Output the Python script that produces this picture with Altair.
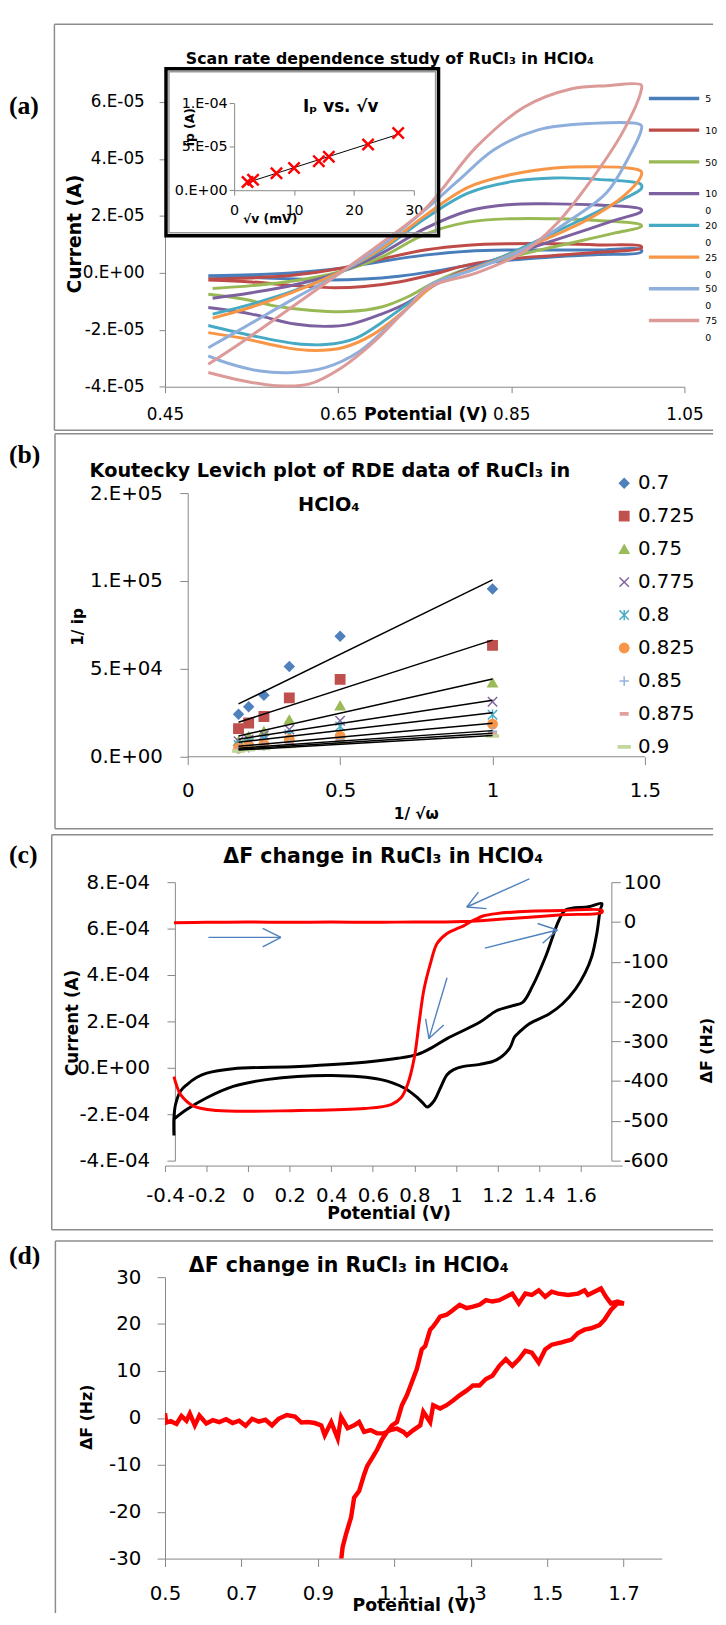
import altair as alt
import pandas as pd

FONT = "DejaVu Sans"
SERIF = "Liberation Serif"
AXC = "#868686"
BOXC = "#8c8c8c"

# ---------------- (a) CVs at several scan rates (mV/s); current in 1e-5 A ----------------
RATES = ["5", "10", "50", "100", "200", "250", "500", "750"]
RATE_COLORS = ["#4A7EBB", "#BE4B48", "#98B954", "#7D60A0", "#46AAC5", "#F79646", "#8EAEDC", "#DC9A98"]

E_5 = [0.50, 0.55, 0.60, 0.65, 0.70, 0.75, 0.80, 0.85, 0.90, 0.95, 1.00,
       1.00, 0.95, 0.90, 0.85, 0.80, 0.76, 0.72, 0.68, 0.64, 0.60, 0.55, 0.50]
I_5 = [-0.10, -0.07, 0.00, 0.15, 0.40, 0.62, 0.76, 0.80, 0.80, 0.80, 0.82,
       0.72, 0.64, 0.56, 0.45, 0.26, 0.05, -0.12, -0.22, -0.25, -0.22, -0.16, -0.12]
E_10 = [0.50, 0.55, 0.60, 0.65, 0.70, 0.75, 0.80, 0.85, 0.90, 0.95, 1.00,
        1.00, 0.95, 0.90, 0.85, 0.80, 0.76, 0.72, 0.68, 0.64, 0.60, 0.55, 0.50]
I_10 = [-0.22, -0.18, -0.08, 0.14, 0.48, 0.80, 0.97, 1.02, 1.02, 0.98, 0.93,
        0.86, 0.72, 0.61, 0.50, 0.28, -0.05, -0.32, -0.48, -0.52, -0.45, -0.32, -0.25]
E_50 = [0.505, 0.55, 0.60, 0.65, 0.70, 0.75, 0.80, 0.85, 0.90, 0.95, 1.00,
        1.00, 0.97, 0.94, 0.88, 0.83, 0.79, 0.76, 0.73, 0.70, 0.66, 0.62, 0.58, 0.54, 0.50]
I_50 = [-0.55, -0.45, -0.28, 0.02, 0.55, 1.35, 1.78, 1.90, 1.90, 1.84, 1.68,
        1.62, 1.40, 1.19, 0.78, 0.40, 0.05, -0.35, -0.85, -1.20, -1.36, -1.32, -1.18, -0.92, -0.75]
E_100 = [0.505, 0.55, 0.60, 0.65, 0.70, 0.75, 0.80, 0.85, 0.90, 0.95, 1.00,
         1.00, 0.97, 0.94, 0.88, 0.83, 0.79, 0.76, 0.73, 0.70, 0.665, 0.635, 0.60, 0.55, 0.50]
I_100 = [-0.89, -0.70, -0.42, 0.00, 0.68, 1.55, 2.17, 2.40, 2.42, 2.38, 2.23,
         2.15, 1.85, 1.54, 0.95, 0.45, 0.02, -0.45, -1.05, -1.45, -1.80, -1.88, -1.80, -1.45, -1.22]
E_200 = [0.505, 0.55, 0.60, 0.65, 0.70, 0.75, 0.80, 0.85, 0.90, 0.95, 1.00,
         1.00, 0.98, 0.95, 0.90, 0.85, 0.80, 0.76, 0.73, 0.70, 0.67, 0.635, 0.60, 0.55, 0.50]
I_200 = [-1.45, -1.10, -0.62, 0.00, 0.80, 1.90, 2.80, 3.20, 3.33, 3.28, 3.10,
         2.95, 2.60, 2.15, 1.42, 0.70, 0.08, -0.45, -1.10, -1.75, -2.30, -2.52, -2.48, -2.20, -1.85]
E_250 = [0.505, 0.55, 0.60, 0.65, 0.70, 0.75, 0.80, 0.85, 0.90, 0.95, 0.985, 1.00,
         1.00, 0.98, 0.94, 0.88, 0.83, 0.79, 0.76, 0.73, 0.69, 0.655, 0.615, 0.58, 0.54, 0.50]
I_250 = [-1.59, -1.20, -0.65, 0.00, 0.85, 2.00, 3.00, 3.45, 3.68, 3.72, 3.68, 3.56,
         3.40, 2.70, 1.90, 1.05, 0.40, -0.02, -0.45, -1.24, -2.17, -2.63, -2.72, -2.57, -2.30, -2.10]
E_500 = [0.50, 0.54, 0.60, 0.65, 0.70, 0.75, 0.79, 0.83, 0.88, 0.94, 1.00,
         1.00, 0.986, 0.96, 0.92, 0.865, 0.81, 0.755, 0.73, 0.71, 0.675, 0.635, 0.597, 0.56, 0.52, 0.50]
I_500 = [-2.63, -1.94, -0.89, -0.05, 0.95, 2.20, 3.27, 4.32, 5.01, 5.24, 5.18,
         5.00, 4.08, 2.81, 1.89, 0.84, 0.15, -0.45, -1.25, -1.82, -2.75, -3.33, -3.50, -3.45, -3.15, -2.92]
E_750 = [0.50, 0.54, 0.60, 0.65, 0.70, 0.75, 0.81, 0.865, 0.92, 0.96, 1.00,
         1.00, 0.98, 0.94, 0.90, 0.865, 0.81, 0.755, 0.73, 0.692, 0.654, 0.616, 0.578, 0.54, 0.50]
I_750 = [-3.21, -2.41, -1.13, -0.05, 1.05, 2.23, 4.43, 5.82, 6.46, 6.57, 6.60,
         6.40, 5.01, 3.16, 1.65, 0.75, 0.00, -0.50, -1.24, -2.41, -3.33, -3.91, -3.96, -3.79, -3.50]
CV = {"5": (E_5, I_5), "10": (E_10, I_10), "50": (E_50, I_50), "100": (E_100, I_100),
      "200": (E_200, I_200), "250": (E_250, I_250), "500": (E_500, I_500), "750": (E_750, I_750)}

# inset: peak current vs sqrt(scan rate)
SQRT_V = [2.24, 3.16, 7.07, 10.0, 14.14, 15.81, 22.36, 27.39]
IP = [0.95e-5, 1.2e-5, 1.95e-5, 2.55e-5, 3.35e-5, 3.85e-5, 5.25e-5, 6.6e-5]

# ---------------- (b) Koutecky-Levich ----------------
X_B = [0.1667, 0.2, 0.25, 0.3333, 0.5, 1.0]
POTS = ["0.7", "0.725", "0.75", "0.775", "0.8", "0.825", "0.85", "0.875", "0.9"]
POT_COLORS = ["#4F81BD", "#C0504D", "#9BBB59", "#8064A2", "#4BACC6", "#F79646", "#95B3D7", "#E0A0A0", "#C3D69B"]
Y_B = {  # 1/ip in 1e4
    "0.7":   [2.42, 2.85, 3.50, 5.14, 6.85, 9.55],
    "0.725": [1.60, 1.92, 2.29, 3.35, 4.40, 6.34],
    "0.75":  [0.89, 1.17, 1.45, 2.11, 2.91, 4.21],
    "0.775": [0.89, 0.99, 1.23, 1.55, 2.05, 3.13],
    "0.8":   [0.67, 0.80, 0.99, 1.27, 1.73, 2.39],
    "0.825": [0.49, 0.62, 0.71, 0.99, 1.17, 1.86],
    "0.85":  [0.42, 0.50, 0.60, 0.75, 0.95, 1.45],
    "0.875": [0.38, 0.45, 0.52, 0.65, 0.85, 1.30],
    "0.9":   [0.33, 0.40, 0.47, 0.58, 0.78, 1.18],
}
XPATH = "M-1,-1L1,1M-1,1L1,-1"
ASTER = "M-1,-1L1,1M-1,1L1,-1M0,-1.1V1.1"
PLUS = "M-1,0H1M0,-1V1"
SHORT = "M-0.8,-0.25H0.8V0.25H-0.8Z"
LONG = "M-1.25,-0.22H1.25V0.22H-1.25Z"
POT_SHAPES = ["diamond", "square", "triangle-up", XPATH, ASTER, "circle", PLUS, SHORT, LONG]

# ---------------- (c) current (1e-4 A) and dF (Hz) vs potential ----------------
C_BLK_V = [-0.357, -0.357, -0.349, -0.325, -0.294, -0.246, -0.199, -0.072, 0.245, 0.561, 0.720, 0.815,
           0.878, 0.957, 1.116, 1.195, 1.274, 1.321, 1.369, 1.432, 1.496, 1.527, 1.638, 1.702,
           1.694, 1.678, 1.654, 1.622, 1.575, 1.512, 1.448, 1.353, 1.306, 1.282, 1.258, 1.195, 1.116,
           1.037, 0.989, 0.957, 0.925, 0.894, 0.862, 0.839, 0.815, 0.751, 0.640, 0.403, 0.087, -0.072,
           -0.199, -0.294, -0.357]
C_BLK_I = [-2.92, -2.14, -1.57, -1.00, -0.72, -0.41, -0.23, -0.04, 0.06, 0.24, 0.41, 0.58,
           0.84, 1.26, 1.97, 2.46, 2.68, 2.82, 3.53, 4.81, 6.37, 6.80, 6.94, 7.08,
           6.80, 5.80, 4.81, 4.10, 3.39, 2.75, 2.32, 1.90, 1.55, 1.33, 0.84, 0.34, 0.15,
           0.06, -0.08, -0.30, -0.87, -1.43, -1.69, -1.50, -1.29, -0.87, -0.51, -0.33, -0.51, -0.80,
           -1.29, -1.79, -2.21]
C_RED_V = [-0.357, -0.2, 0.0, 0.2, 0.4, 0.6, 0.8, 0.95, 1.036, 1.116, 1.195, 1.353, 1.512, 1.702,
           1.702, 1.512, 1.353, 1.195, 1.13, 1.10, 1.068, 1.037, 1.0, 0.957, 0.909, 0.878, 0.846,
           0.823, 0.799, 0.767, 0.736, 0.688, 0.561, 0.245, -0.151, -0.262, -0.325, -0.345, -0.357]
C_RED_F = [-2, -1, 0, -1, 0, -1, 0, 0, 1, 3, 6, 12, 18, 24,
           29, 29, 27, 21, 15, 8, 0, -10, -18, -29, -54, -103, -170,
           -252, -343, -409, -442, -459, -469, -474, -474, -463, -434, -410, -389]
AR_X1 = [-0.191, 0.070, 0.070, 1.353, 1.108, 1.147, 1.139, 1.393, 1.417, 0.957, 0.854, 0.941]
AR_Y1 = [5.62, 6.01, 5.21, 8.14, 7.57, 6.86, 5.16, 6.22, 5.37, 3.88, 2.11, 1.85]
AR_X2 = [0.158, 0.158, 0.158, 1.052, 1.052, 1.052, 1.488, 1.488, 1.488, 0.870, 0.870, 0.870]
AR_Y2 = [5.62, 5.62, 5.62, 6.93, 6.93, 6.93, 5.94, 5.94, 5.94, 1.26, 1.26, 1.26]

# ---------------- (d) dF (Hz) vs potential ----------------
D_V = [0.500, 0.503, 0.515, 0.530, 0.543, 0.556, 0.565, 0.578, 0.590, 0.608, 0.625, 0.642, 0.660, 0.677,
       0.694, 0.711, 0.728, 0.745, 0.763, 0.780, 0.797, 0.819, 0.840, 0.857, 0.874, 0.892, 0.909, 0.918,
       0.935, 0.952, 0.961, 0.978, 0.995, 1.008, 1.021, 1.038, 1.055, 1.073, 1.090, 1.107, 1.124, 1.133,
       1.150, 1.168, 1.176, 1.194, 1.202, 1.220, 1.237, 1.254, 1.271, 1.289, 1.306, 1.323, 1.340, 1.357,
       1.375, 1.392, 1.409, 1.426, 1.443, 1.460, 1.478, 1.495, 1.512, 1.538, 1.564, 1.581, 1.598, 1.615,
       1.637, 1.650, 1.667, 1.684, 1.701,
       1.684, 1.667, 1.654, 1.641, 1.624, 1.607, 1.598, 1.581, 1.555, 1.529, 1.512, 1.495, 1.478, 1.460,
       1.443, 1.426, 1.409, 1.392, 1.375, 1.357, 1.340, 1.323, 1.306, 1.289, 1.271, 1.254, 1.237, 1.220,
       1.211, 1.202, 1.194, 1.181, 1.172, 1.159, 1.146, 1.133, 1.120, 1.107, 1.094, 1.081, 1.068, 1.055,
       1.042, 1.029, 1.021, 1.008, 0.995, 0.987, 0.974, 0.965, 0.961]
D_F = [1.0, -1.0, -0.7, -1.3, 0.4, -0.6, 0.9, -1.6, 0.5, -1.2, -0.5, -0.9, -0.3, -1.1,
       -0.6, -1.7, -0.2, -0.8, -0.4, -1.6, -0.2, 0.6, 0.3, -1.0, -0.9, -1.1, -1.6, -3.7,
       -0.9, -4.4, 0.2, -2.2, -1.6, -0.9, -3.0, -2.6, -3.3, -3.3, -2.6, -2.3, -3.0, -3.7,
       -2.6, -1.6, 1.3, -0.9, 2.7, 2.0, 2.7, 3.7, 4.8, 5.8, 6.9, 6.9, 8.3, 9.0,
       11.1, 12.5, 11.1, 12.5, 14.3, 13.9, 11.8, 14.6, 15.6, 16.1, 16.7, 18.1, 18.8, 19.1,
       19.8, 20.9, 23.0, 24.4, 24.4,
       24.8, 24.4, 25.8, 27.6, 26.9, 26.2, 27.2, 26.5, 26.2, 26.5, 26.9, 25.8, 27.2, 26.2,
       26.5, 24.4, 26.5, 25.8, 25.1, 24.8, 25.1, 24.1, 23.7, 23.4, 24.1, 23.0, 22.0, 21.6,
       20.5, 19.5, 18.8, 15.3, 14.6, 10.4, 7.6, 4.8, 2.7, -0.9, -1.6, -3.0, -4.6, -6.8,
       -8.6, -10.3, -12.1, -15.6, -17.0, -21.2, -24.7, -27.5, -30.3]

TITLE_RU = "ΔF change in RuCl₃ in HClO₄"

# ---------------- helpers ----------------
E_EXP = "floor(log(abs(datum.value))/LN10+1e-9)"
SCI = ("datum.value == 0 ? '0.E+00' : toString(round(datum.value/pow(10," + E_EXP + "))) + '.E' + ("
       + E_EXP + " < 0 ? '-0' : '+0') + toString(abs(" + E_EXP + "))")
PLAIN = "toString(datum.value)"
ONE = alt.Data(values=[{"k": 0}])


def axis(**kw):
    return alt.Axis(labelOverlap=False, labelFlush=False, grid=False,
                    titleBaseline="middle", titleAlign="center", **kw)


def text(t, x, y, size, bold=True, font=FONT, align="center"):
    return alt.Chart(ONE).mark_text(text=t, font=font, fontSize=size,
                                    fontWeight="bold" if bold else "normal",
                                    align=align, baseline="middle", color="black").encode(
        x=alt.value(x), y=alt.value(y))


def hrule(x1, x2, y, opacity=1.0):
    return alt.Chart(ONE).mark_rule(color=BOXC, strokeWidth=1.5, opacity=opacity).encode(
        x=alt.value(x1), x2=alt.value(x2), y=alt.value(y))


def vrule(x, y1, y2):
    return alt.Chart(ONE).mark_rule(color=BOXC, strokeWidth=1.5).encode(
        x=alt.value(x), y=alt.value(y1), y2=alt.value(y2))


RIGHT = 555

# ---------------- panel (a) ----------------
rows = []
for r in RATES:
    E, I = CV[r]
    for k, (e, i) in enumerate(zip(E, I)):
        rows.append({"rate": r, "k": k, "E": e, "I": i * 1e-5})
df_a = pd.DataFrame(rows)
df_in = pd.DataFrame({"rt": SQRT_V, "ip": IP})
df_leg_a = pd.DataFrame({"rate": RATES,
                         "lab": [r[:2] + ("\n" + r[2:] if len(r) > 2 else "") for r in RATES]})

W_A, H_A = 526, 317.3
color_a = alt.Scale(domain=RATES, range=RATE_COLORS)
curves = alt.Chart(df_a).mark_line(strokeWidth=3, interpolate="catmull-rom").encode(
    x=alt.X("E:Q", scale=alt.Scale(domain=[0.45, 1.05], nice=False, zero=False),
            axis=axis(values=[0.45, 0.65, 0.85, 1.05], labelExpr=PLAIN, tickSize=6, labelPadding=22,
                      labelBaseline="middle", labelFontSize=17, title="Potential (V)",
                      titleFontSize=17.5, titleX=263.6, titleY=28)),
    y=alt.Y("I:Q", scale=alt.Scale(domain=[-4e-5, 7e-5], nice=False, zero=False),
            axis=axis(values=[-4e-5, -2e-5, 0, 2e-5, 4e-5, 6e-5], labelExpr=SCI, tickSize=6,
                      labelPadding=15, labelFontSize=17, title="Current (A)", titleFontSize=19,
                      titleAngle=270, titleX=-92, titleY=162.3)),
    color=alt.Color("rate:N", scale=color_a, legend=None),
    order=alt.Order("k:Q"),
)
leg_y_a = alt.Y("rate:N", scale=alt.Scale(type="point", domain=RATES, range=[25.3, 250.3], padding=0), axis=None)
leg_lines_a = alt.Chart(df_leg_a).mark_rule(strokeWidth=3.5).encode(
    x=alt.value(490), x2=alt.value(541), y=leg_y_a, color=alt.Color("rate:N", scale=color_a, legend=None))
leg_text_a = alt.Chart(df_leg_a).mark_text(align="left", baseline="top", dy=-4.3, fontSize=9.5, font=FONT,
                                           lineBreak="\n", lineHeight=17, color="black").encode(
    x=alt.value(547), y=leg_y_a, text="lab:N")

in_x = alt.Scale(domain=[0, 30], range=[70, 252], nice=False, zero=False)
in_y = alt.Scale(domain=[0, 1e-4], range=[118.3, 30.3], nice=False, zero=False)
inset_pts = alt.Chart(df_in).mark_point(shape=XPATH, size=130, color="#FF0000", strokeWidth=2.5,
                                        opacity=1, filled=False).encode(
    x=alt.X("rt:Q", scale=in_x,
            axis=axis(orient="bottom", offset=-199, values=[0, 10, 20, 30], labelExpr=PLAIN, tickSize=5,
                      labelPadding=15.7, labelBaseline="middle", labelFontSize=14.5, title="√v (mV)",
                      titleFontSize=12.5, titleX=106, titleY=29)),
    y=alt.Y("ip:Q", scale=in_y,
            axis=axis(orient="left", offset=-70, values=[0, 5e-5, 1e-4], labelExpr=SCI, tickSize=5,
                      labelPadding=2, labelFontSize=14.5, title="ip (A)", titleFontSize=12.5,
                      titleAngle=270, titleX=-45.3, titleY=54)),
)
inset_reg = alt.Chart(df_in).transform_regression("rt", "ip").mark_line(color="black", strokeWidth=1).encode(
    x=alt.X("rt:Q", scale=in_x, axis=None), y=alt.Y("ip:Q", scale=in_y, axis=None))
inset_box = alt.Chart(ONE).mark_rect(fillOpacity=0, stroke="black", strokeWidth=3.5).encode(
    x=alt.value(1), x2=alt.value(277), y=alt.value(-4.7), y2=alt.value(164.3))
inset_box2 = alt.Chart(ONE).mark_rect(fillOpacity=0, stroke="#9a9a9a", strokeWidth=1.5).encode(
    x=alt.value(4), x2=alt.value(274), y=alt.value(-1.7), y2=alt.value(161.3))

panel_a = alt.layer(
    curves, leg_lines_a, leg_text_a, inset_box, inset_box2, inset_reg, inset_pts,
    text("Iₚ vs. √v", 178, 34.3, 17),
    text("Scan rate dependence study of RuCl₃ in HClO₄", 227.7, -14.7, 16),
    text("(a)", -158, 33.1, 26, font=SERIF, align="left"),
    hrule(-112, RIGHT, -49.7), hrule(-112, RIGHT, 361.3), vrule(-112, -49.7, 361.3),
).resolve_scale(x="independent", y="independent").properties(width=W_A, height=H_A)

# ---------------- panel (b) ----------------
rows = []
for p in POTS:
    for x, y in zip(X_B, Y_B[p]):
        rows.append({"pot": p, "x": x, "y": y * 1e4})
df_b = pd.DataFrame(rows)
df_leg_b = pd.DataFrame({"pot": POTS})
xb_scale = alt.Scale(domain=[-0.0745, 1.5], nice=False, zero=False)
yb_scale = alt.Scale(domain=[0, 1.5e5], nice=False, zero=False)
xb = alt.X("x:Q", scale=xb_scale,
           axis=axis(values=[0, 0.5, 1, 1.5], domain=False, labelExpr=PLAIN, tickSize=8, labelPadding=26.7,
                     labelBaseline="middle", labelFontSize=20, title="1/ √ω", titleFontSize=15.5,
                     titleX=254, titleY=58))
shape_b = alt.Scale(domain=POTS, range=POT_SHAPES)
col_b = alt.Scale(domain=POTS, range=POT_COLORS)
pts_b = alt.Chart(df_b).mark_point(size=90, strokeWidth=1.5, opacity=1).encode(
    x=xb,
    y=alt.Y("y:Q", scale=yb_scale,
            axis=axis(values=[0, 5e4, 1e5, 1.5e5], offset=-23, labelExpr=SCI, tickSize=8, labelPadding=17.6,
                      labelFontSize=20, title="1/ ip", titleFontSize=15.5, titleAngle=270,
                      titleX=-112, titleY=135)),
    shape=alt.Shape("pot:N", scale=shape_b, legend=None),
    fill=alt.Fill("pot:N", scale=col_b, legend=None),
    stroke=alt.Stroke("pot:N", scale=col_b, legend=None),
)
reg_b = alt.Chart(df_b).transform_regression("x", "y", groupby=["pot"]).mark_line(
    color="black", strokeWidth=1.5).encode(x=xb, y=alt.Y("y:Q", scale=yb_scale, axis=None), detail="pot:N")
xaxis_b = alt.Chart(ONE).mark_rule(color=AXC, strokeWidth=1).encode(
    x=alt.XDatum(0), x2=alt.X2Datum(1.5), y=alt.value(267))
leg_y_b = alt.Y("pot:N", scale=alt.Scale(type="point", domain=POTS, range=[-10, 257], padding=0), axis=None)
leg_pts_b = alt.Chart(df_leg_b).mark_point(size=90, strokeWidth=1.5, opacity=1).encode(
    x=alt.value(465), y=leg_y_b,
    shape=alt.Shape("pot:N", scale=shape_b, legend=None),
    fill=alt.Fill("pot:N", scale=col_b, legend=None),
    stroke=alt.Stroke("pot:N", scale=col_b, legend=None))
leg_txt_b = alt.Chart(df_leg_b).mark_text(align="left", baseline="middle", fontSize=20, font=FONT,
                                          color="black").encode(x=alt.value(479), y=leg_y_b, text="pot:N")

panel_b = alt.layer(
    pts_b, reg_b, xaxis_b, leg_pts_b, leg_txt_b,
    text("Koutecky Levich plot of RDE data of RuCl₃ in", 167, -22, 19.5),
    text("HClO₄", 166, 12, 19.5),
    text("(b)", -158, -38, 26, font=SERIF, align="left"),
    hrule(-111.4, RIGHT, -60), hrule(-111.4, RIGHT, 340), vrule(-111.4, -60, 340),
    hrule(-111.4, RIGHT, 344, opacity=0),
).resolve_scale(y="independent").properties(width=486, height=267)

# ---------------- panel (c) ----------------
df_cb = pd.DataFrame({"V": C_BLK_V, "I": [v * 1e-4 for v in C_BLK_I], "k": list(range(len(C_BLK_V)))})
df_cr = pd.DataFrame({"V": C_RED_V, "F": C_RED_F, "k": list(range(len(C_RED_V)))})
df_ar = pd.DataFrame({"V": AR_X1, "V2": AR_X2, "y1": [v * 1e-4 for v in AR_Y1], "y2": [v * 1e-4 for v in AR_Y2]})
xc_scale = alt.Scale(domain=[-0.4, 1.8], nice=False, zero=False)
xc = alt.X("V:Q", scale=xc_scale,
           axis=axis(values=[-0.4, -0.2, 0, 0.2, 0.4, 0.6, 0.8, 1, 1.2, 1.4, 1.6], labelExpr=PLAIN, offset=5,
                     tickSize=6, labelPadding=24, labelBaseline="middle", labelFontSize=20,
                     title="Potential (V)", titleFontSize=17.5, titleX=226.5, titleY=48.3))
yc_scale = alt.Scale(domain=[-4e-4, 8e-4], nice=False, zero=False)
black_c = alt.Chart(df_cb).mark_line(color="black", strokeWidth=3, interpolate="catmull-rom").encode(
    x=xc,
    y=alt.Y("I:Q", scale=yc_scale,
            axis=axis(orient="left", offset=-10, values=[-4e-4, -2e-4, 0, 2e-4, 4e-4, 6e-4, 8e-4],
                      labelExpr=SCI, tickSize=8, labelPadding=17.6, labelFontSize=20, title="Current (A)",
                      titleFontSize=17, titleAngle=270, titleX=-104, titleY=142)),
    order=alt.Order("k:Q"))
red_c = alt.Chart(df_cr).mark_line(color="#FF0000", strokeWidth=3, interpolate="catmull-rom").encode(
    x=xc,
    y=alt.Y("F:Q", scale=alt.Scale(domain=[-600, 100], nice=False, zero=False),
            axis=axis(orient="right", offset=-11, values=[-600, -500, -400, -300, -200, -100, 0, 100],
                      labelExpr=PLAIN, tickSize=9, labelPadding=3, labelFontSize=20, title="ΔF (Hz)",
                      titleFontSize=16, titleAngle=270, titleX=96, titleY=170)),
    order=alt.Order("k:Q"))
arrows_c = alt.Chart(df_ar).mark_rule(color="#4F81BD", strokeWidth=1.4).encode(
    x=xc, x2="V2:Q",
    y=alt.Y("y1:Q", scale=yc_scale, axis=None), y2="y2:Q")

panel_c = alt.layer(
    black_c, red_c, arrows_c,
    text(TITLE_RU, 221, -25, 20.8),
    text("(c)", -158, -27, 26, font=SERIF, align="left"),
    hrule(-114.7, RIGHT, -48), hrule(-114.7, RIGHT, 352), vrule(-114.7, -48, 352),
    hrule(-114.7, RIGHT, 361, opacity=0),
).resolve_scale(y="independent").properties(width=463, height=282)

# ---------------- panel (d) ----------------
df_d = pd.DataFrame({"V": D_V, "F": D_F, "k": list(range(len(D_V)))})
line_d = alt.Chart(df_d).mark_line(color="#FF0000", strokeWidth=4.5, clip=True).encode(
    x=alt.X("V:Q", scale=alt.Scale(domain=[0.5, 1.8], nice=False, zero=False),
            axis=axis(values=[0.5, 0.7, 0.9, 1.1, 1.3, 1.5, 1.7], labelExpr=PLAIN, tickSize=8,
                      labelPadding=27.3, labelBaseline="middle", labelFontSize=20, title="Potential (V)",
                      titleFontSize=17.5, titleX=252, titleY=48)),
    y=alt.Y("F:Q", scale=alt.Scale(domain=[-30, 30], nice=False, zero=False),
            axis=axis(values=[-30, -20, -10, 0, 10, 20, 30], labelExpr=PLAIN, tickSize=8, labelPadding=16.5,
                      labelFontSize=20, title="ΔF (Hz)", titleFontSize=16, titleAngle=270,
                      titleX=-79, titleY=141.3)),
    order=alt.Order("k:Q"))

panel_d = alt.layer(
    line_d,
    text(TITLE_RU, 186, -11.7, 20.8),
    text("(d)", -158, -21.7, 26, font=SERIF, align="left"),
    hrule(-111, RIGHT, -36.7), vrule(-111, -36.7, 340),
).properties(width=503, height=285)

chart = alt.vconcat(panel_a, panel_b, panel_c, panel_d, spacing=1).properties(
    padding={"left": 1, "top": 5, "right": 0, "bottom": 0}
).configure_view(strokeWidth=0).configure_axis(
    labelFont=FONT, titleFont=FONT, labelColor="black", titleColor="black", titleFontWeight="bold",
    domainColor=AXC, tickColor=AXC, domainWidth=1, tickWidth=1
)

chart.save("out.html", embed_options={"renderer": "svg", "actions": False})
